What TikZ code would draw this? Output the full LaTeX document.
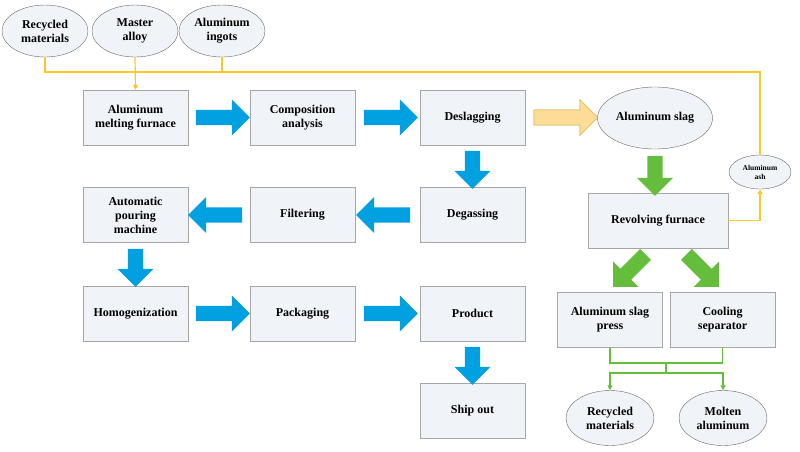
\documentclass[tikz,border=0pt]{standalone}
\usepackage{fontspec}
\setmainfont{Liberation Serif}
\usetikzlibrary{shapes.geometric,shapes.arrows,arrows.meta}
\definecolor{bx}{RGB}{240,244,248}
\definecolor{ab}{RGB}{0,160,225}
\definecolor{ag}{RGB}{100,190,60}
\definecolor{ay}{RGB}{250,200,40}
\definecolor{ayf}{RGB}{252,220,150}
\begin{document}
\begin{tikzpicture}[x=1pt,y=-1pt,
 box/.style={draw=gray!70,fill=bx,minimum width=105pt,minimum height=55pt,align=center,font=\bfseries\fontsize{12}{14}\selectfont},
 ell/.style={ellipse,draw=gray!80!black,fill=bx,minimum width=86pt,minimum height=52pt,inner sep=0pt,align=center,font=\bfseries\fontsize{12}{14}\selectfont},
 barr/.style={single arrow,draw=none,fill=ab,minimum height=54pt,minimum width=36pt,single arrow head extend=7pt,inner sep=5pt},
 garr/.style={barr,fill=ag},
 yl/.style={draw=ay,line width=1.2pt},
 gl/.style={draw=ag,line width=1.2pt}]
\useasboundingbox (0,0) rectangle (800,451);
\node[ell] (e1) at (45,31) {Recycled\\materials};
\node[ell] (e2) at (135,31) {Master\\alloy};
\node[ell] (e3) at (222,31) {Aluminum\\ingots};
\node[box] (b1) at (135.5,117.5) {Aluminum\\melting furnace};
\node[box] (b2) at (302.5,117.5) {Composition\\analysis};
\node[box] (b3) at (472.5,117.5) {Deslagging};
\node[box] (b4) at (135.5,215) {Automatic\\pouring\\machine};
\node[box] (b5) at (302.5,215) {Filtering};
\node[box] (b6) at (472.5,215) {Degassing};
\node[box] (b7) at (135.5,313.5) {Homogenization};
\node[box] (b8) at (302.5,313.5) {Packaging};
\node[box] (b9) at (472.5,313.5) {Product};
\node[box] (b10) at (472.5,410.5) {Ship out};
\node[ell,minimum width=115pt,minimum height=62pt] (s) at (655,118) {Aluminum slag};
\node[box,minimum width=140pt] (rf) at (658,220.5) {Revolving furnace};
\node[ell,minimum width=62pt,minimum height=34pt,font=\bfseries\fontsize{7.5}{9}\selectfont] (ash) at (760,172) {Aluminum\\ash};
\node[box] (p) at (610,320) {Aluminum slag\\press};
\node[box] (c) at (722.5,320) {Cooling\\separator};
\node[ell,minimum width=88pt,minimum height=55pt] (r) at (610,418) {Recycled\\materials};
\node[ell,minimum width=88pt,minimum height=55pt] (m) at (723,418) {Molten\\aluminum};
% yellow feed lines
\coordinate (j1) at (45,72); \coordinate (j3) at (760,72);
\draw[yl] (e1.south) -- (j1) -- (j3) -- (ash.north);
\draw[yl] (e3.south) -- (222,72);
\draw[yl,-{Triangle[length=5pt,width=5pt]}] (e2.south) -- (b1.north);
\draw[yl,-{Triangle[length=5pt,width=5pt]}] (rf.east) -- (760,220.5) -- (ash.south);
% blue block arrows
\node[barr] (a1) at (219,117.5) {};
\node[barr] (a2) at (387,117.5) {};
\node[barr,rotate=180] (a3) at (387,215) {};
\node[barr,rotate=180] (a4) at (219,215) {};
\node[barr] (a5) at (219,313.5) {};
\node[barr] (a6) at (387,313.5) {};
\node[barr,rotate=-90,minimum height=38pt] (a7) at (472.5,166) {};
\node[barr,rotate=-90,minimum height=38pt] (a8) at (135.5,264) {};
\node[barr,rotate=-90,minimum height=38pt] (a9) at (472.5,362) {};
\node[barr,fill=ayf,draw=ay!80!black,minimum height=64pt] (a10) at (562,117.5) {};
\node[garr,rotate=-90,minimum height=40pt] (g1) at (655,172) {};
\node[garr,rotate=-135,minimum height=46pt] (g2) at (632,268) {};
\node[garr,rotate=-45,minimum height=46pt] (g3) at (700,268) {};
% green split lines
\draw[gl] (p.south) -- (610,363) -- (722.5,363) -- (c.south);
\draw[gl] (666,363) -- (666,373);
\draw[gl,-{Triangle[length=5pt,width=5pt]}] (666,373) -- (610,373) -- (r.north);
\draw[gl,-{Triangle[length=5pt,width=5pt]}] (666,373) -- (723,373) -- (m.north);
\end{tikzpicture}
\end{document}
